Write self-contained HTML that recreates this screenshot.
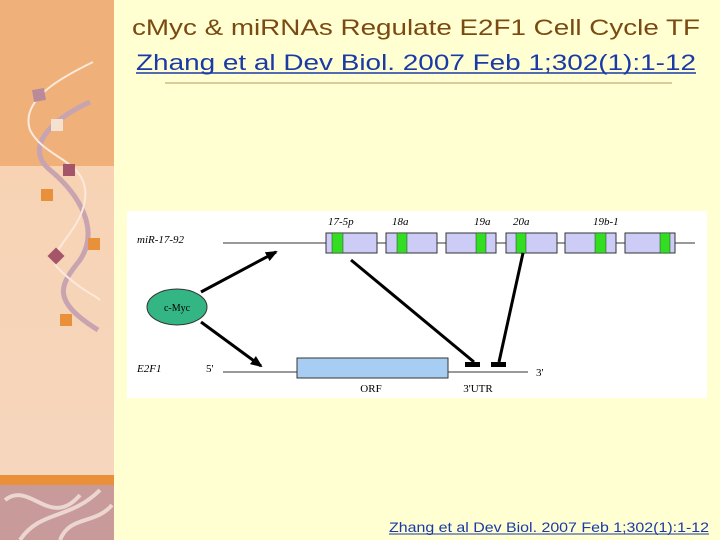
<!DOCTYPE html>
<html><head><style>
html,body{margin:0;padding:0;width:720px;height:540px;overflow:hidden;background:#ffffd2;}
</style></head><body>
<svg width="720" height="540" xmlns="http://www.w3.org/2000/svg" font-family="Liberation Sans, sans-serif">
<defs>
<marker id="ah" markerWidth="12" markerHeight="10" refX="10" refY="5" orient="auto" markerUnits="userSpaceOnUse">
<path d="M0,0 L12,5 L0,10 Z" fill="#000"/></marker>
<linearGradient id="low" x1="0" y1="0" x2="0" y2="1"><stop offset="0" stop-color="#f7d3b4"/><stop offset="1" stop-color="#f6d6bd"/></linearGradient>
</defs>
<rect width="720" height="540" fill="#ffffd2"/>
<rect x="0" y="0" width="114" height="166" fill="#efb07a"/>
<rect x="0" y="166" width="114" height="309" fill="url(#low)"/>
<rect x="0" y="475" width="114" height="10" fill="#ea8f3a"/>
<rect x="0" y="485" width="114" height="55" fill="#c89a9a"/>
<path d="M5,500 C30,480 50,530 80,495 M20,540 C40,510 70,520 100,490 M60,540 C70,515 95,525 112,505" stroke="#ecd6d0" stroke-width="4" fill="none"/>
<path d="M90,102 C60,115 20,145 50,170 C80,195 100,230 80,260 C60,285 50,300 98,330" stroke="#c8a3b0" stroke-width="5" fill="none"/>
<path d="M93,62 C60,78 20,100 30,130 C45,160 90,160 85,200 C80,235 40,255 60,270 C80,290 95,295 100,300" stroke="#fbe9dc" stroke-width="2" fill="none"/>
<rect x="33" y="89" width="12" height="12" fill="#b88a9a" transform="rotate(-10 39 95)"/>
<rect x="51" y="119" width="12" height="12" fill="#f5e1d0"/>
<rect x="63" y="164" width="12" height="12" fill="#a5556a"/>
<rect x="41" y="189" width="12" height="12" fill="#e8913a"/>
<rect x="88" y="238" width="12" height="12" fill="#e8913a"/>
<rect x="50" y="250" width="12" height="12" fill="#a5556a" transform="rotate(45 56 256)"/>
<rect x="60" y="314" width="12" height="12" fill="#e8913a"/>
<text x="416" y="35" text-anchor="middle" font-size="22" fill="#7a4a12" textLength="568" lengthAdjust="spacingAndGlyphs">cMyc &amp; miRNAs Regulate E2F1 Cell Cycle TF</text>
<text x="416" y="70" text-anchor="middle" font-size="22" fill="#1a3aa8" textLength="560" lengthAdjust="spacingAndGlyphs">Zhang et al Dev Biol. 2007 Feb 1;302(1):1-12</text>
<line x1="136" y1="73" x2="696" y2="73" stroke="#1a3aa8" stroke-width="1.5"/>
<line x1="165" y1="83" x2="672" y2="83" stroke="#d2b98a" stroke-width="1.5"/>
<rect x="127" y="211" width="580" height="187" fill="#fff"/>
<g font-family="Liberation Serif, serif" font-style="italic" font-size="11">
<text x="137" y="243">miR-17-92</text>
<text x="328" y="225">17-5p</text>
<text x="392" y="225">18a</text>
<text x="474" y="225">19a</text>
<text x="513" y="225">20a</text>
<text x="593" y="225">19b-1</text>
<text x="137" y="372">E2F1</text>
<text x="206" y="372" font-style="normal">5'</text>
<text x="536" y="376" font-style="normal">3'</text>
</g>
<line x1="223" y1="243" x2="695" y2="243" stroke="#333" stroke-width="1"/>
<g stroke="#333" stroke-width="1" fill="#ccccf6">
<rect x="326" y="233" width="51" height="20"/>
<rect x="386" y="233" width="51" height="20"/>
<rect x="446" y="233" width="50" height="20"/>
<rect x="506" y="233" width="51" height="20"/>
<rect x="565" y="233" width="51" height="20"/>
<rect x="625" y="233" width="50" height="20"/>
</g>
<g fill="#33dd22" stroke="#333" stroke-width="0.5">
<rect x="332" y="233" width="11" height="20"/>
<rect x="397" y="233" width="10" height="20"/>
<rect x="476" y="233" width="10" height="20"/>
<rect x="516" y="233" width="10" height="20"/>
<rect x="595" y="233" width="11" height="20"/>
<rect x="660" y="233" width="10" height="20"/>
</g>
<ellipse cx="177" cy="307" rx="30" ry="18" fill="#33b584" stroke="#333" stroke-width="1"/>
<text x="177" y="311" text-anchor="middle" font-family="Liberation Serif, serif" font-size="10">c-Myc</text>
<line x1="201" y1="292" x2="276" y2="252" stroke="#000" stroke-width="3" marker-end="url(#ah)"/>
<line x1="201" y1="322" x2="261" y2="366" stroke="#000" stroke-width="3" marker-end="url(#ah)"/>
<line x1="223" y1="372" x2="528" y2="372" stroke="#333" stroke-width="1"/>
<rect x="297" y="358" width="151" height="20" fill="#a8cdf2" stroke="#333" stroke-width="1"/>
<line x1="351" y1="260" x2="474" y2="362" stroke="#000" stroke-width="3"/>
<rect x="465" y="362" width="15" height="5" fill="#000"/>
<line x1="523" y1="253" x2="499" y2="362" stroke="#000" stroke-width="3"/>
<rect x="491" y="362" width="15" height="5" fill="#000"/>
<g font-family="Liberation Serif, serif" font-size="11" text-anchor="middle">
<text x="371" y="392">ORF</text>
<text x="478" y="392">3'UTR</text>
</g>
<text x="549" y="532" text-anchor="middle" font-size="14" fill="#1a3aa8" textLength="320" lengthAdjust="spacingAndGlyphs">Zhang et al Dev Biol. 2007 Feb 1;302(1):1-12</text>
<line x1="389" y1="534" x2="709" y2="534" stroke="#1a3aa8" stroke-width="1"/>
</svg>
</body></html>
